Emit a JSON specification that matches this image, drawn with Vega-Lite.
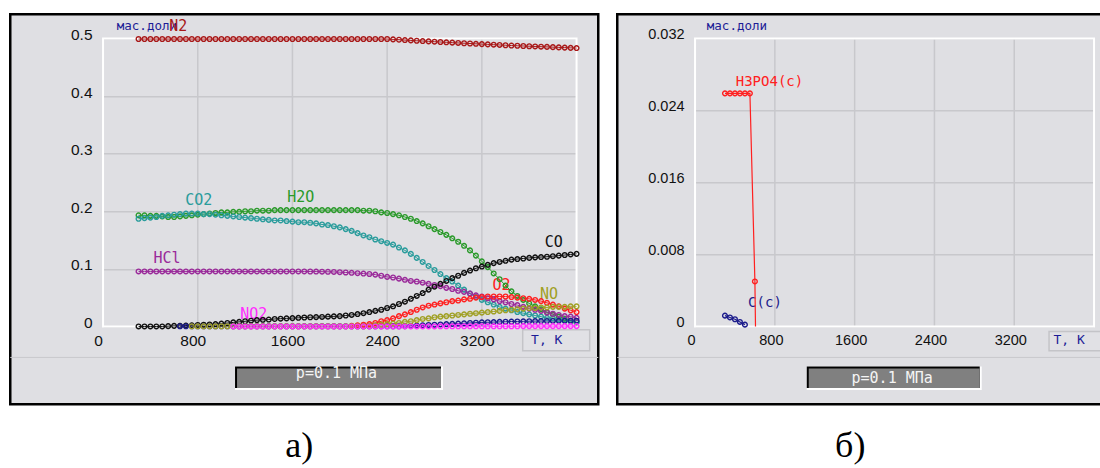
{
  "$schema": "https://vega.github.io/schema/vega-lite/v6.json",
  "background": "#ffffff",
  "padding": {"left": 8.25, "top": 12.25, "right": 0, "bottom": 0},
  "spacing": 15,
  "datasets": {
    "one": [{}],
    "gx": [{"T":800},{"T":1600},{"T":2400},{"T":3200}],
    "a": [
      {"T":300,"N2":0.499,"H2O":0.193,"CO2":0.187,"HCl":0.0955,"CO":0},
      {"T":350,"N2":0.499,"H2O":0.193,"CO2":0.188,"HCl":0.0955,"CO":0},
      {"T":400,"N2":0.499,"H2O":0.192,"CO2":0.189,"HCl":0.0955,"CO":0},
      {"T":450,"N2":0.499,"H2O":0.192,"CO2":0.190,"HCl":0.0955,"CO":0},
      {"T":500,"N2":0.499,"H2O":0.191,"CO2":0.192,"HCl":0.0955,"CO":0},
      {"T":550,"N2":0.499,"H2O":0.190,"CO2":0.193,"HCl":0.0955,"CO":0.0005},
      {"T":600,"N2":0.499,"H2O":0.190,"CO2":0.194,"HCl":0.0955,"CO":0.001},
      {"T":650,"N2":0.499,"H2O":0.191,"CO2":0.195,"HCl":0.0955,"CO":0.001,"Cl":0.0003},
      {"T":700,"N2":0.499,"H2O":0.192,"CO2":0.196,"HCl":0.0955,"CO":0.0015,"Cl":0.0003},
      {"T":750,"N2":0.499,"H2O":0.193,"CO2":0.196,"HCl":0.0955,"CO":0.002,"Cl":0.0003,"NO":0.0003},
      {"T":800,"N2":0.499,"H2O":0.194,"CO2":0.196,"HCl":0.0955,"CO":0.0025,"Cl":0.0003,"NO":0.0003},
      {"T":850,"N2":0.499,"H2O":0.195,"CO2":0.195,"HCl":0.0955,"CO":0.003,"Cl":0.0003,"NO":0.0003},
      {"T":900,"N2":0.499,"H2O":0.196,"CO2":0.195,"HCl":0.0955,"CO":0.0035,"Cl":0.0003,"NO":0.0003},
      {"T":950,"N2":0.499,"H2O":0.197,"CO2":0.194,"HCl":0.0955,"CO":0.004,"Cl":0.0003,"NO":0.0003},
      {"T":1000,"N2":0.499,"H2O":0.198,"CO2":0.193,"HCl":0.0955,"CO":0.005,"Cl":0.0003,"NO":0.0003},
      {"T":1050,"N2":0.499,"H2O":0.198,"CO2":0.192,"HCl":0.0955,"CO":0.006,"Cl":0.0003,"NO":0.0003},
      {"T":1100,"N2":0.499,"H2O":0.199,"CO2":0.191,"HCl":0.0955,"CO":0.007,"Cl":0.0003,"NO":0.0003,"NO2":0},
      {"T":1150,"N2":0.499,"H2O":0.199,"CO2":0.190,"HCl":0.0955,"CO":0.008,"Cl":0.0003,"NO":0.0003,"NO2":0},
      {"T":1200,"N2":0.499,"H2O":0.200,"CO2":0.189,"HCl":0.0955,"CO":0.009,"Cl":0.0003,"NO":0.0003,"NO2":0},
      {"T":1250,"N2":0.499,"H2O":0.200,"CO2":0.188,"HCl":0.0955,"CO":0.010,"Cl":0.0003,"NO":0.0003,"NO2":0},
      {"T":1300,"N2":0.499,"H2O":0.201,"CO2":0.187,"HCl":0.0955,"CO":0.011,"Cl":0.0003,"NO":0.0003,"NO2":0},
      {"T":1350,"N2":0.499,"H2O":0.201,"CO2":0.186,"HCl":0.0955,"CO":0.0115,"Cl":0.0003,"NO":0.0003,"NO2":0},
      {"T":1400,"N2":0.499,"H2O":0.201,"CO2":0.185,"HCl":0.0955,"CO":0.012,"Cl":0.0003,"NO":0.0003,"NO2":0},
      {"T":1450,"N2":0.499,"H2O":0.202,"CO2":0.184,"HCl":0.0955,"CO":0.013,"Cl":0.0003,"NO":0.0003,"NO2":0},
      {"T":1500,"N2":0.499,"H2O":0.202,"CO2":0.184,"HCl":0.0955,"CO":0.0135,"Cl":0.0003,"NO":0.0003,"NO2":0},
      {"T":1550,"N2":0.499,"H2O":0.202,"CO2":0.183,"HCl":0.0955,"CO":0.014,"Cl":0.0003,"NO":0.0003,"NO2":0},
      {"T":1600,"N2":0.499,"H2O":0.202,"CO2":0.182,"HCl":0.0955,"CO":0.0145,"Cl":0.0003,"NO":0.0003,"NO2":0},
      {"T":1650,"N2":0.499,"H2O":0.202,"CO2":0.181,"HCl":0.0955,"CO":0.015,"Cl":0.0003,"NO":0.0003,"NO2":0},
      {"T":1700,"N2":0.499,"H2O":0.202,"CO2":0.181,"HCl":0.0955,"CO":0.0155,"Cl":0.0003,"NO":0.0003,"NO2":0},
      {"T":1750,"N2":0.499,"H2O":0.202,"CO2":0.180,"HCl":0.0954,"CO":0.016,"Cl":0.0003,"NO":0.0003,"NO2":0},
      {"T":1800,"N2":0.499,"H2O":0.202,"CO2":0.179,"HCl":0.0953,"CO":0.0162,"Cl":0.0003,"NO":0.0003,"NO2":0},
      {"T":1850,"N2":0.499,"H2O":0.202,"CO2":0.177,"HCl":0.0951,"CO":0.0165,"Cl":0.0003,"NO":0.0003,"NO2":0},
      {"T":1900,"N2":0.499,"H2O":0.202,"CO2":0.176,"HCl":0.0949,"CO":0.017,"Cl":0.0003,"NO":0.0003,"NO2":0},
      {"T":1950,"N2":0.499,"H2O":0.202,"CO2":0.174,"HCl":0.0946,"CO":0.0175,"Cl":0.0003,"NO":0.0003,"NO2":0},
      {"T":2000,"N2":0.499,"H2O":0.202,"CO2":0.172,"HCl":0.0942,"CO":0.018,"Cl":0.0003,"NO":0.0003,"NO2":0},
      {"T":2050,"N2":0.499,"H2O":0.202,"CO2":0.169,"HCl":0.0937,"CO":0.019,"Cl":0.0003,"NO":0.0003,"NO2":0},
      {"T":2100,"N2":0.499,"H2O":0.202,"CO2":0.166,"HCl":0.0931,"CO":0.020,"Cl":0.0003,"O2":0.001,"NO":0.0003,"NO2":0},
      {"T":2150,"N2":0.499,"H2O":0.202,"CO2":0.162,"HCl":0.0925,"CO":0.0215,"Cl":0.0003,"O2":0.002,"NO":0.0003,"NO2":0},
      {"T":2200,"N2":0.499,"H2O":0.201,"CO2":0.158,"HCl":0.0918,"CO":0.023,"Cl":0.0003,"O2":0.003,"NO":0.0003,"NO2":0},
      {"T":2250,"N2":0.499,"H2O":0.201,"CO2":0.155,"HCl":0.0911,"CO":0.025,"Cl":0.0003,"O2":0.004,"NO":0.001,"NO2":0},
      {"T":2300,"N2":0.499,"H2O":0.200,"CO2":0.151,"HCl":0.090,"CO":0.027,"Cl":0.0003,"O2":0.006,"NO":0.002,"NO2":0},
      {"T":2350,"N2":0.499,"H2O":0.198,"CO2":0.148,"HCl":0.088,"CO":0.029,"Cl":0.0003,"O2":0.009,"NO":0.003,"NO2":0},
      {"T":2400,"N2":0.499,"H2O":0.197,"CO2":0.145,"HCl":0.086,"CO":0.032,"Cl":0.0003,"O2":0.011,"NO":0.004,"NO2":0},
      {"T":2450,"N2":0.4984,"H2O":0.195,"CO2":0.142,"HCl":0.085,"CO":0.035,"Cl":0.0003,"O2":0.014,"NO":0.005,"NO2":0},
      {"T":2500,"N2":0.4978,"H2O":0.193,"CO2":0.137,"HCl":0.083,"CO":0.039,"Cl":0.0003,"O2":0.018,"NO":0.006,"NO2":0},
      {"T":2550,"N2":0.4972,"H2O":0.190,"CO2":0.132,"HCl":0.081,"CO":0.043,"Cl":0.0006,"O2":0.021,"NO":0.008,"NO2":0},
      {"T":2600,"N2":0.4966,"H2O":0.187,"CO2":0.126,"HCl":0.079,"CO":0.048,"Cl":0.001,"O2":0.025,"NO":0.009,"NO2":0},
      {"T":2650,"N2":0.4960,"H2O":0.183,"CO2":0.119,"HCl":0.078,"CO":0.053,"Cl":0.0015,"O2":0.029,"NO":0.011,"NO2":0},
      {"T":2700,"N2":0.4955,"H2O":0.179,"CO2":0.112,"HCl":0.076,"CO":0.058,"Cl":0.002,"O2":0.033,"NO":0.013,"NO2":0},
      {"T":2750,"N2":0.4950,"H2O":0.174,"CO2":0.105,"HCl":0.074,"CO":0.064,"Cl":0.0025,"O2":0.036,"NO":0.014,"NO2":0},
      {"T":2800,"N2":0.4944,"H2O":0.169,"CO2":0.098,"HCl":0.072,"CO":0.069,"Cl":0.003,"O2":0.038,"NO":0.016,"NO2":0},
      {"T":2850,"N2":0.4938,"H2O":0.164,"CO2":0.091,"HCl":0.070,"CO":0.074,"Cl":0.0035,"O2":0.040,"NO":0.017,"NO2":0.0003},
      {"T":2900,"N2":0.4933,"H2O":0.159,"CO2":0.084,"HCl":0.067,"CO":0.079,"Cl":0.004,"O2":0.042,"NO":0.018,"NO2":0.0003},
      {"T":2950,"N2":0.4927,"H2O":0.153,"CO2":0.078,"HCl":0.065,"CO":0.084,"Cl":0.0045,"O2":0.044,"NO":0.019,"NO2":0.0003},
      {"T":3000,"N2":0.4922,"H2O":0.147,"CO2":0.071,"HCl":0.062,"CO":0.088,"Cl":0.005,"O2":0.045,"NO":0.020,"NO2":0.0003},
      {"T":3050,"N2":0.4917,"H2O":0.140,"CO2":0.064,"HCl":0.060,"CO":0.093,"Cl":0.0055,"O2":0.047,"NO":0.021,"NO2":0.0003},
      {"T":3100,"N2":0.4912,"H2O":0.132,"CO2":0.057,"HCl":0.057,"CO":0.097,"Cl":0.006,"O2":0.048,"NO":0.022,"NO2":0.0003},
      {"T":3150,"N2":0.4907,"H2O":0.123,"CO2":0.051,"HCl":0.054,"CO":0.101,"Cl":0.0065,"O2":0.050,"NO":0.023,"NO2":0.0003},
      {"T":3200,"N2":0.4902,"H2O":0.113,"CO2":0.046,"HCl":0.052,"CO":0.104,"Cl":0.007,"O2":0.051,"NO":0.024,"NO2":0.0003},
      {"T":3250,"N2":0.4897,"H2O":0.103,"CO2":0.042,"HCl":0.049,"CO":0.107,"Cl":0.0073,"O2":0.052,"NO":0.025,"NO2":0.0003},
      {"T":3300,"N2":0.4892,"H2O":0.092,"CO2":0.038,"HCl":0.047,"CO":0.110,"Cl":0.0076,"O2":0.052,"NO":0.026,"NO2":0.0003},
      {"T":3350,"N2":0.4887,"H2O":0.082,"CO2":0.034,"HCl":0.044,"CO":0.112,"Cl":0.0079,"O2":0.052,"NO":0.027,"NO2":0.0003},
      {"T":3400,"N2":0.4882,"H2O":0.071,"CO2":0.031,"HCl":0.042,"CO":0.114,"Cl":0.0082,"O2":0.052,"NO":0.028,"NO2":0.0003},
      {"T":3450,"N2":0.4877,"H2O":0.061,"CO2":0.028,"HCl":0.039,"CO":0.116,"Cl":0.0085,"O2":0.051,"NO":0.029,"NO2":0.0003},
      {"T":3500,"N2":0.4873,"H2O":0.053,"CO2":0.025,"HCl":0.037,"CO":0.117,"Cl":0.0087,"O2":0.050,"NO":0.030,"NO2":0.0003},
      {"T":3550,"N2":0.4869,"H2O":0.046,"CO2":0.023,"HCl":0.034,"CO":0.118,"Cl":0.0089,"O2":0.049,"NO":0.031,"NO2":0.0006},
      {"T":3600,"N2":0.4865,"H2O":0.040,"CO2":0.021,"HCl":0.031,"CO":0.119,"Cl":0.0091,"O2":0.048,"NO":0.032,"NO2":0.0006},
      {"T":3650,"N2":0.4861,"H2O":0.035,"CO2":0.019,"HCl":0.029,"CO":0.120,"Cl":0.0093,"O2":0.046,"NO":0.032,"NO2":0.0006},
      {"T":3700,"N2":0.4857,"H2O":0.030,"CO2":0.017,"HCl":0.027,"CO":0.1205,"Cl":0.0094,"O2":0.044,"NO":0.033,"NO2":0.0006},
      {"T":3750,"N2":0.4853,"H2O":0.025,"CO2":0.015,"HCl":0.024,"CO":0.121,"Cl":0.0095,"O2":0.041,"NO":0.033,"NO2":0.0006},
      {"T":3800,"N2":0.4849,"H2O":0.021,"CO2":0.014,"HCl":0.022,"CO":0.122,"Cl":0.0096,"O2":0.038,"NO":0.034,"NO2":0.0006},
      {"T":3850,"N2":0.4845,"H2O":0.017,"CO2":0.012,"HCl":0.020,"CO":0.123,"Cl":0.0097,"O2":0.035,"NO":0.034,"NO2":0.0006},
      {"T":3900,"N2":0.4841,"H2O":0.013,"CO2":0.011,"HCl":0.018,"CO":0.124,"Cl":0.0098,"O2":0.031,"NO":0.034,"NO2":0.0006},
      {"T":3950,"N2":0.4837,"H2O":0.010,"CO2":0.009,"HCl":0.017,"CO":0.125,"Cl":0.0099,"O2":0.028,"NO":0.035,"NO2":0.0006},
      {"T":4000,"N2":0.4833,"H2O":0.007,"CO2":0.008,"HCl":0.015,"CO":0.126,"Cl":0.010,"O2":0.025,"NO":0.035,"NO2":0.0006}
    ],
    "b": [
      {"s":"C(c)","T":300,"v":0.0012},
      {"s":"C(c)","T":350,"v":0.001},
      {"s":"C(c)","T":400,"v":0.0008},
      {"s":"C(c)","T":450,"v":0.0005},
      {"s":"C(c)","T":500,"v":0.0002},
      {"s":"H3PO4(c)","T":300,"v":0.0259},
      {"s":"H3PO4(c)","T":350,"v":0.0259},
      {"s":"H3PO4(c)","T":400,"v":0.0259},
      {"s":"H3PO4(c)","T":450,"v":0.0259},
      {"s":"H3PO4(c)","T":500,"v":0.0259},
      {"s":"H3PO4(c)","T":550,"v":0.0259},
      {"s":"H3PO4(c)","T":600,"v":0.005},
      {"s":"H3PO4(c)","T":606,"v":0}
    ],
    "labA": [
      {"s":"N2","T":635,"v":0.5208},
      {"s":"CO2","T":808,"v":0.2188},
      {"s":"H2O","T":1670,"v":0.2252},
      {"s":"HCl","T":541,"v":0.1184},
      {"s":"NO2","T":1273,"v":0.022},
      {"s":"CO","T":3807,"v":0.1465},
      {"s":"O2","T":3366,"v":0.0712},
      {"s":"NO","T":3768,"v":0.0571}
    ],
    "labB": [
      {"s":"H3PO4(c)","T":746,"v":0.02711},
      {"s":"C(c)","T":701,"v":0.00258}
    ]
  },
  "hconcat": [
    {
      "width": 588,
      "height": 390,
      "title": {"text": "а)", "orient": "bottom", "offset": 25, "dx": -5},
      "resolve": {"axis": {"x": "independent", "y": "independent"}},
      "layer": [
        {
          "data": {"name": "a"},
          "transform": [
            {"fold": ["N2","H2O","CO2","HCl","CO","Cl","O2","NO","NO2"], "as": ["s","v"]},
            {"filter": "isValid(datum.v)"}
          ],
          "mark": {"type": "point", "opacity": 0},
          "encoding": {
            "x": {"field": "T", "type": "quantitative",
              "scale": {"domain": [0, 4000], "range": [92.8, 566.3], "nice": false, "zero": false},
              "axis": {"values": [0,800,1600,2400,3200], "format": "d", "offset": -77.8, "labelPadding": 7, "labelOffset": -5, "title": null, "grid": false}},
            "y": {"field": "v", "type": "quantitative",
              "scale": {"domain": [0, 0.5], "range": [312.2, 24.2], "nice": false, "zero": false},
              "axis": {"values": [0,0.1,0.2,0.3,0.4,0.5], "labelExpr": "datum.value == 0 ? '0' : format(datum.value, '.1f')", "offset": -92.8, "labelPadding": 11, "labelOffset": -4, "title": null, "grid": true}}
          }
        },
        {
          "data": {"name": "gx"},
          "mark": {"type": "rule", "stroke": "#c8c8cc", "strokeWidth": 1.5},
          "encoding": {
            "x": {"field": "T", "type": "quantitative", "axis": null},
            "y": {"datum": 0, "type": "quantitative", "axis": null},
            "y2": {"datum": 0.5}
          }
        },
        {
          "data": {"name": "one"},
          "mark": {"type": "rule", "stroke": "#c9c9cd", "strokeWidth": 1},
          "encoding": {"y": {"datum": -0.0538, "type": "quantitative", "axis": null}}
        },
        {
          "data": {"name": "one"},
          "mark": {"type": "rect", "fillOpacity": 0, "stroke": "#ffffff", "strokeWidth": 2},
          "encoding": {
            "x": {"datum": 0, "type": "quantitative", "axis": null},
            "x2": {"datum": 4000},
            "y": {"datum": 0, "type": "quantitative", "axis": null},
            "y2": {"datum": 0.5}
          }
        },
        {
          "data": {"name": "one"},
          "mark": {"type": "rect", "fill": "#e1e1e5", "stroke": "#c4c4c8", "strokeWidth": 1.5},
          "encoding": {
            "x": {"datum": 3545, "type": "quantitative", "axis": null},
            "x2": {"datum": 4111},
            "y": {"datum": -0.0057, "type": "quantitative", "axis": null},
            "y2": {"datum": -0.0422}
          }
        },
        {
          "data": {"name": "one"},
          "mark": {"type": "text", "text": "T, K", "font": "DejaVu Sans Mono", "fontSize": 13, "color": "#1c1c96", "align": "center", "baseline": "middle"},
          "encoding": {
            "x": {"datum": 3748, "type": "quantitative", "axis": null},
            "y": {"datum": -0.024, "type": "quantitative", "axis": null}
          }
        },
        {
          "data": {"name": "one"},
          "mark": {"type": "rect", "fill": "#ffffff"},
          "encoding": {
            "x": {"datum": 1115, "type": "quantitative", "axis": null},
            "x2": {"datum": 2872},
            "y": {"datum": -0.0694, "type": "quantitative", "axis": null},
            "y2": {"datum": -0.1104}
          }
        },
        {
          "data": {"name": "one"},
          "mark": {"type": "rect", "fill": "#000000"},
          "encoding": {
            "x": {"datum": 1115, "type": "quantitative", "axis": null},
            "x2": {"datum": 2855},
            "y": {"datum": -0.0694, "type": "quantitative", "axis": null},
            "y2": {"datum": -0.1069}
          }
        },
        {
          "data": {"name": "one"},
          "mark": {"type": "rect", "fill": "#808080"},
          "encoding": {
            "x": {"datum": 1132, "type": "quantitative", "axis": null},
            "x2": {"datum": 2855},
            "y": {"datum": -0.0729, "type": "quantitative", "axis": null},
            "y2": {"datum": -0.1069}
          }
        },
        {
          "data": {"name": "one"},
          "mark": {"type": "text", "text": "p=0.1 МПа", "font": "DejaVu Sans Mono", "fontSize": 15, "color": "#f4f4f4", "align": "center", "baseline": "middle"},
          "encoding": {
            "x": {"datum": 1972, "type": "quantitative", "axis": null},
            "y": {"datum": -0.0807, "type": "quantitative", "axis": null}
          }
        },
        {
          "data": {"name": "one"},
          "mark": {"type": "text", "text": "мас.доли", "font": "DejaVu Sans Mono", "fontSize": 12.5, "color": "#1c1c96", "align": "left", "baseline": "middle"},
          "encoding": {
            "x": {"datum": 116, "type": "quantitative", "axis": null},
            "y": {"datum": 0.5208, "type": "quantitative", "axis": null}
          }
        },
        {
          "data": {"name": "labA"},
          "mark": {"type": "text", "font": "DejaVu Sans Mono", "fontSize": 15, "align": "center", "baseline": "middle"},
          "encoding": {
            "x": {"field": "T", "type": "quantitative", "axis": null},
            "y": {"field": "v", "type": "quantitative", "axis": null},
            "text": {"field": "s"},
            "color": {"field": "s", "type": "nominal", "legend": null,
              "scale": {"domain": ["N2","H2O","CO2","HCl","CO","Cl","O2","NO","NO2","H3PO4(c)","C(c)"],
                        "range": ["#a81818","#2a9a2a","#2a9c9c","#9a2a9a","#111111","#1c1c8c","#ff2020","#a0a024","#ff2cff","#ff2020","#1c1c8c"]}}
          }
        },
        {
          "data": {"name": "a"},
          "transform": [
            {"fold": ["N2","H2O","CO2","HCl","CO","Cl","O2","NO","NO2"], "as": ["s","v"]},
            {"filter": "isValid(datum.v)"}
          ],
          "encoding": {
            "x": {"field": "T", "type": "quantitative", "axis": null},
            "y": {"field": "v", "type": "quantitative", "axis": null},
            "color": {"field": "s", "type": "nominal", "legend": null,
              "scale": {"domain": ["N2","H2O","CO2","HCl","CO","Cl","O2","NO","NO2","H3PO4(c)","C(c)"],
                        "range": ["#880c0c","#2a9a2a","#2a9c9c","#9a2a9a","#111111","#1c1c8c","#ff2020","#a0a024","#ff2cff","#ff2020","#1c1c8c"]}}
          },
          "layer": [
            {"mark": {"type": "line", "strokeWidth": 1}},
            {"mark": {"type": "point", "shape": "circle", "filled": false, "size": 22, "strokeWidth": 1.4, "opacity": 1}}
          ]
        }
      ]
    },
    {
      "width": 486,
      "height": 390,
      "title": {"text": "б)", "orient": "bottom", "offset": 25, "dx": -10},
      "resolve": {"axis": {"x": "independent", "y": "independent"}},
      "layer": [
        {
          "data": {"name": "b"},
          "mark": {"type": "point", "opacity": 0},
          "encoding": {
            "x": {"field": "T", "type": "quantitative",
              "scale": {"domain": [0, 4000], "range": [77.8, 476.8], "nice": false, "zero": false},
              "axis": {"values": [0,800,1600,2400,3200], "format": "d", "offset": -77.8, "labelPadding": 7, "labelOffset": -4, "title": null, "grid": false, "labelFontSize": 14.5}},
            "y": {"field": "v", "type": "quantitative",
              "scale": {"domain": [0, 0.032], "range": [312.2, 24.2], "nice": false, "zero": false},
              "axis": {"values": [0,0.008,0.016,0.024,0.032], "labelExpr": "datum.value == 0 ? '0' : format(datum.value, '.3f')", "offset": -77.8, "labelPadding": 11, "labelOffset": -4, "title": null, "grid": true, "labelFontSize": 14.5}}
          }
        },
        {
          "data": {"name": "gx"},
          "mark": {"type": "rule", "stroke": "#c8c8cc", "strokeWidth": 1.5},
          "encoding": {
            "x": {"field": "T", "type": "quantitative", "axis": null},
            "y": {"datum": 0, "type": "quantitative", "axis": null},
            "y2": {"datum": 0.032}
          }
        },
        {
          "data": {"name": "one"},
          "mark": {"type": "rule", "stroke": "#c9c9cd", "strokeWidth": 1},
          "encoding": {"y": {"datum": -0.003444, "type": "quantitative", "axis": null}}
        },
        {
          "data": {"name": "one"},
          "mark": {"type": "rect", "fillOpacity": 0, "stroke": "#ffffff", "strokeWidth": 2},
          "encoding": {
            "x": {"datum": 0, "type": "quantitative", "axis": null},
            "x2": {"datum": 4000},
            "y": {"datum": 0, "type": "quantitative", "axis": null},
            "y2": {"datum": 0.032}
          }
        },
        {
          "data": {"name": "one"},
          "mark": {"type": "rect", "fill": "#e1e1e5", "stroke": "#c4c4c8", "strokeWidth": 1.5},
          "encoding": {
            "x": {"datum": 3549, "type": "quantitative", "axis": null},
            "x2": {"datum": 4200},
            "y": {"datum": -0.00056, "type": "quantitative", "axis": null},
            "y2": {"datum": -0.0027}
          }
        },
        {
          "data": {"name": "one"},
          "mark": {"type": "text", "text": "T, K", "font": "DejaVu Sans Mono", "fontSize": 13, "color": "#1c1c96", "align": "center", "baseline": "middle"},
          "encoding": {
            "x": {"datum": 3750, "type": "quantitative", "axis": null},
            "y": {"datum": -0.00153, "type": "quantitative", "axis": null}
          }
        },
        {
          "data": {"name": "one"},
          "mark": {"type": "rect", "fill": "#ffffff"},
          "encoding": {
            "x": {"datum": 1120, "type": "quantitative", "axis": null},
            "x2": {"datum": 2874},
            "y": {"datum": -0.00444, "type": "quantitative", "axis": null},
            "y2": {"datum": -0.00707}
          }
        },
        {
          "data": {"name": "one"},
          "mark": {"type": "rect", "fill": "#000000"},
          "encoding": {
            "x": {"datum": 1120, "type": "quantitative", "axis": null},
            "x2": {"datum": 2854},
            "y": {"datum": -0.00444, "type": "quantitative", "axis": null},
            "y2": {"datum": -0.00685}
          }
        },
        {
          "data": {"name": "one"},
          "mark": {"type": "rect", "fill": "#808080"},
          "encoding": {
            "x": {"datum": 1140, "type": "quantitative", "axis": null},
            "x2": {"datum": 2854},
            "y": {"datum": -0.00466, "type": "quantitative", "axis": null},
            "y2": {"datum": -0.00685}
          }
        },
        {
          "data": {"name": "one"},
          "mark": {"type": "text", "text": "p=0.1 МПа", "font": "DejaVu Sans Mono", "fontSize": 15, "color": "#f4f4f4", "align": "center", "baseline": "middle"},
          "encoding": {
            "x": {"datum": 1976, "type": "quantitative", "axis": null},
            "y": {"datum": -0.00576, "type": "quantitative", "axis": null}
          }
        },
        {
          "data": {"name": "one"},
          "mark": {"type": "text", "text": "мас.доли", "font": "DejaVu Sans Mono", "fontSize": 12.5, "color": "#1c1c96", "align": "left", "baseline": "middle"},
          "encoding": {
            "x": {"datum": 118, "type": "quantitative", "axis": null},
            "y": {"datum": 0.03333, "type": "quantitative", "axis": null}
          }
        },
        {
          "data": {"name": "labB"},
          "mark": {"type": "text", "font": "DejaVu Sans Mono", "fontSize": 14, "align": "center", "baseline": "middle"},
          "encoding": {
            "x": {"field": "T", "type": "quantitative", "axis": null},
            "y": {"field": "v", "type": "quantitative", "axis": null},
            "text": {"field": "s"},
            "color": {"field": "s", "type": "nominal", "legend": null,
              "scale": {"domain": ["N2","H2O","CO2","HCl","CO","Cl","O2","NO","NO2","H3PO4(c)","C(c)"],
                        "range": ["#a81818","#2a9a2a","#2a9c9c","#9a2a9a","#111111","#1c1c8c","#ff2020","#a0a024","#ff2cff","#ff2020","#1c1c8c"]}}
          }
        },
        {
          "data": {"name": "b"},
          "encoding": {
            "x": {"field": "T", "type": "quantitative", "axis": null},
            "y": {"field": "v", "type": "quantitative", "axis": null},
            "color": {"field": "s", "type": "nominal", "legend": null,
              "scale": {"domain": ["N2","H2O","CO2","HCl","CO","Cl","O2","NO","NO2","H3PO4(c)","C(c)"],
                        "range": ["#880c0c","#2a9a2a","#2a9c9c","#9a2a9a","#111111","#1c1c8c","#ff2020","#a0a024","#ff2cff","#ff2020","#1c1c8c"]}}
          },
          "layer": [
            {"mark": {"type": "line", "strokeWidth": 1.2}},
            {"transform": [{"filter": "datum.v > 0"}], "mark": {"type": "point", "shape": "circle", "filled": false, "size": 22, "strokeWidth": 1.4, "opacity": 1}}
          ]
        }
      ]
    }
  ],
  "config": {
    "view": {"fill": "#dfdfe3", "stroke": "#000000", "strokeWidth": 2.5},
    "axis": {"ticks": false, "domain": false, "labelFont": "Liberation Sans", "labelFontSize": 15.5, "labelColor": "#111111", "gridColor": "#c8c8cc", "gridWidth": 1.5, "labelFlush": false, "labelOverlap": false, "labelBound": false},
    "title": {"font": "Liberation Serif", "fontSize": 36, "fontWeight": "normal", "color": "#000000", "anchor": "middle"}
  }
}
